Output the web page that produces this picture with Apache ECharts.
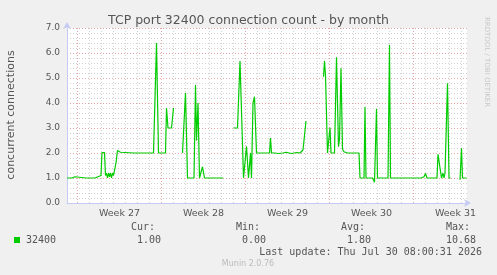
<!DOCTYPE html>
<html>
<head>
<meta charset="utf-8">
<script src="https://cdn.jsdelivr.net/npm/echarts@6/dist/echarts.min.js"></script>
<style>
  html, body { margin: 0; padding: 0; background: #f0f0f0; }
  #chart { width: 497px; height: 275px; }
</style>
</head>
<body>
<div id="chart"></div>
<script>
// hours since start of week 27 (Mon 00:00), null = no data
const hours = [
  -21, -11, -5, -1, 17, 19, 21, 35, 37, 41, 43, 45, 47, 49, 54, 56, 58, 60, 62, 64,
  66, 68, 70, 72, 74, 77, 80, 83, 86, 89, 113, 115, 117, 127, 129, 131, 147, 149, 152, 158,
  162, 176, 178, 181, 188, 192, 200,
  210, 213, 216, 220, 233, 236, 238, 241, 244, 247, 250, 254, 273, 275, 277, 291, 300,
  312, 320, 325, 332, 334, 338, 342, 344, 346, 348, 351, 354, 358, 369, 371, 375, 384, 386,
  388, 395, 397, 401, 405, 411, 417, 421, 427, 433, 439, 445, 449, 451, 454, 457, 470,
  492, 494, 496, 500, 503, 505, 507, 514, 518, 522, 524, 527, 530, 533, 537, 539, 563, 565,
  573, 575, 577, 590, 594, 598, 600, 621, 624, 626, 645, 646, 648, 687, 690, 693, 696, 699,
  719, 721, 723, 725, 728, 731, 733, 735, 740, 743, 746, 755,
  765, 768, 770, 778
]
const conns = [
  1.0, 1.0, 1.05, 1.0, 1.0, 1.03, 1.0, 1.0, 1.08, 1.05, 1.1, 1.05, 1.1, 2.02, 2.02, 1.1, 1.2, 1.0, 1.2, 1.05,
  1.2, 1.0, 1.2, 1.1, 1.3, 1.6, 2.1, 2.15, 2.03, 2.0, 2.0, 2.03, 2.0, 2.0, 2.03, 2.0, 2.0, 2.03, 2.0, 6.4,
  2.0, 2.0, 3.8, 3.0, 3.0, 3.8, null,
  2.0, 2.0, 4.4, 1.0, 1.0, 4.72, 2.5, 4.0, 1.0, 1.0, 1.45, 1.0, 1.0, 1.03, 1.0, 1.0, null,
  3.0, 3.0, 5.68, 1.0, 1.0, 2.27, 1.0, 1.0, 2.0, 1.0, 4.0, 4.25, 2.0, 2.0, 1.97, 2.0, 2.0, 2.6,
  2.0, 2.0, 2.03, 1.98, 2.02, 2.0, 2.03, 2.0, 1.98, 2.0, 2.02, 2.0, 2.05, 2.12, 2.1, 3.28, null,
  5.05, 5.68, 5.1, 2.0, 2.0, 3.02, 2.0, 2.0, 5.83, 2.25, 2.55, 5.39, 2.15, 2.05, 2.05, 2.0, 2.0, 1.0,
  1.0, 3.84, 1.0, 1.0, 0.83, 3.76, 1.0, 1.0, 6.32, 1.0, 1.0, 1.05, 1.0, 1.0, 1.05, 1.05, 1.18, 1.0,
  1.0, 1.95, 1.9, 2.0, 1.0, 1.2, 1.0, 1.2, 4.79, 1.0, 1.0, null,
  0.93, 2.19, 1.0, 1.0
]

const weekLabels = ['Week 27', 'Week 28', 'Week 29', 'Week 30', 'Week 31']
const yTickLabels = ['0.0', '1.0', '2.0', '3.0', '4.0', '5.0', '6.0', '7.0']
const statNames = ['Cur:', 'Min:', 'Avg:', 'Max:']
const statValues = ['1.00', '0.00', '1.80', '10.68']
const seriesName = '32400'

const xMin = -21
const xMax = 779
const weekLines = [0, 168, 336, 504, 672]
const weekMids = weekLines.map(w => w + 84)
let dayLines = []
for (let h = -24; h <= xMax; h += 24) {
  if (h > xMin && weekLines.indexOf(h) < 0) dayLines.push(h)
}

let seriesData = []
for (let i = 0; i < hours.length; i++) {
  seriesData.push([hours[i], conns[i] === null ? '-' : conns[i]])
}

const axisBlue = '#c4cbf2'
const gridGray = '#d2d2d2'
const gridRed = '#e6a4a4'
const sans = 'DejaVu Sans'
const mono = 'DejaVu Sans Mono'

let myChart = echarts.init(document.getElementById('chart'))

const xBase = { type: 'value', min: xMin, max: xMax, position: 'bottom', splitLine: { show: false } }

let graphics = [
  {
    type: 'text', x: 11, y: 115, rotation: Math.PI / 2,
    style: { text: 'concurrent connections', font: '11px ' + sans, fill: '#555', align: 'center', verticalAlign: 'middle' }
  },
  {
    type: 'text', x: 487, y: 62, rotation: -Math.PI / 2,
    style: { text: 'RRDTOOL / TOBI OETIKER', font: '7px ' + sans, fill: '#c8c8c8', align: 'center', verticalAlign: 'middle' }
  },
  { type: 'rect', shape: { x: 14, y: 237, width: 6, height: 6 }, style: { fill: '#00cc00' } },
  {
    type: 'text', x: 26, y: 240,
    style: { text: seriesName, font: '10px ' + mono, fill: '#555', align: 'left', verticalAlign: 'middle' }
  },
  {
    type: 'text', x: 482, y: 252,
    style: { text: 'Last update: Thu Jul 30 08:00:31 2026', font: '10px ' + mono, fill: '#555', align: 'right', verticalAlign: 'middle' }
  },
  {
    type: 'text', x: 248, y: 264,
    style: { text: 'Munin 2.0.76', font: '8px ' + sans, fill: '#bbbbbb', align: 'center', verticalAlign: 'middle' }
  }
]
for (let i = 0; i < statNames.length; i++) {
  graphics.push({
    type: 'text', x: 155 + i * 105, y: 227,
    style: { text: statNames[i], font: '10px ' + mono, fill: '#555', align: 'right', verticalAlign: 'middle' }
  })
  graphics.push({
    type: 'text', x: 161 + i * 105, y: 240,
    style: { text: statValues[i], font: '10px ' + mono, fill: '#555', align: 'right', verticalAlign: 'middle' }
  })
}

myChart.setOption({
  backgroundColor: '#f0f0f0',
  animation: false,
  title: {
    text: 'TCP port 32400 connection count - by month',
    left: 'center',
    top: 9,
    textStyle: { fontFamily: sans, fontSize: 12.5, fontWeight: 'normal', color: '#555' }
  },
  grid: {
    left: 67, top: 28, width: 400, height: 175,
    show: true, backgroundColor: '#ffffff', borderWidth: 0
  },
  xAxis: [
    Object.assign({}, xBase, {
      axisLine: {
        show: true, onZero: false, lineStyle: { color: axisBlue },
        symbol: ['none', 'arrow'], symbolSize: [6, 7], symbolOffset: [0, 4]
      },
      axisTick: { show: false },
      axisLabel: { show: false }
    }),
    Object.assign({}, xBase, {
      axisLine: { show: false },
      axisTick: { show: true, inside: true, length: 175, customValues: dayLines, lineStyle: { color: gridGray, type: [1, 2] } },
      axisLabel: { show: false }
    }),
    Object.assign({}, xBase, {
      axisLine: { show: false },
      axisTick: { show: true, inside: true, length: 175, customValues: weekLines, lineStyle: { color: gridRed, type: [1, 2] } },
      axisLabel: {
        show: true, customValues: weekMids, margin: 6,
        formatter: v => weekLabels[weekMids.indexOf(v)],
        fontFamily: sans, fontSize: 9.5, color: '#555'
      }
    })
  ],
  yAxis: {
    type: 'value', min: 0, max: 7, interval: 1,
    axisLine: {
      show: true, onZero: false, lineStyle: { color: axisBlue },
      symbol: ['none', 'arrow'], symbolSize: [6, 7], symbolOffset: [0, 6]
    },
    axisTick: { show: false },
    axisLabel: { formatter: v => yTickLabels[Math.round(v)], fontFamily: sans, fontSize: 9, color: '#555', margin: 7 },
    splitLine: { show: true, lineStyle: { color: gridRed, type: [1, 2] } },
    minorTick: { show: false, splitNumber: 5 },
    minorSplitLine: { show: true, lineStyle: { color: gridGray, type: [1, 2] } }
  },
  graphic: graphics,
  series: [{
    name: seriesName,
    type: 'line',
    xAxisIndex: 0,
    data: seriesData,
    showSymbol: false,
    symbol: 'none',
    connectNulls: false,
    lineStyle: { color: '#00cc00', width: 1.2 },
    z: 5
  }]
})
</script>
</body>
</html>
